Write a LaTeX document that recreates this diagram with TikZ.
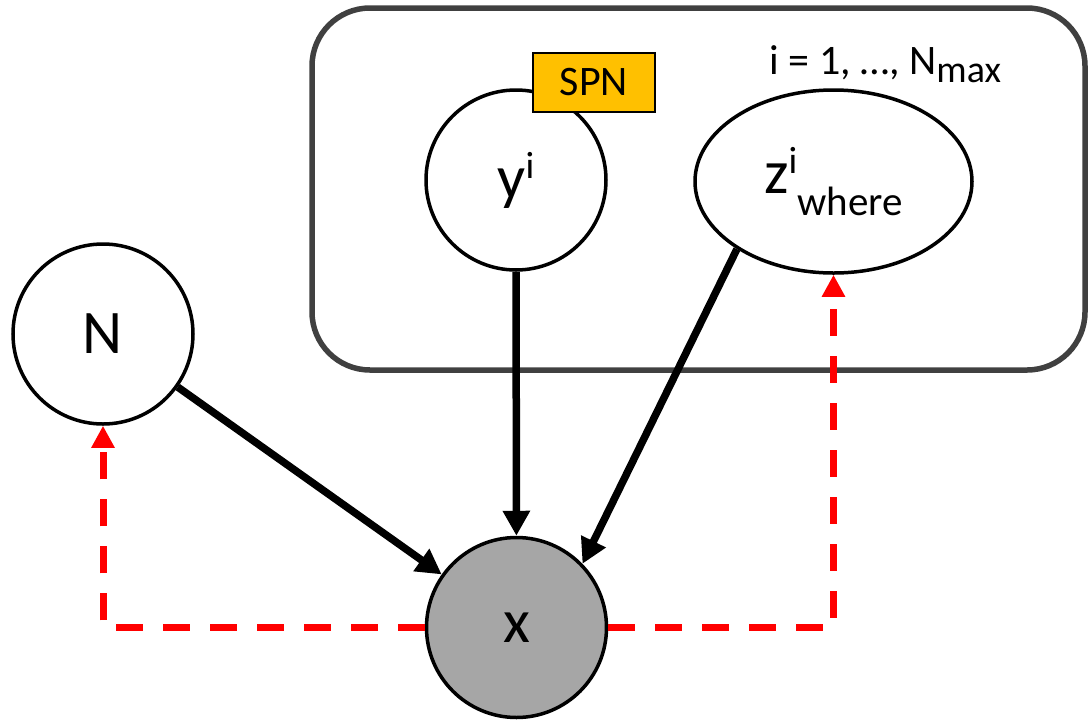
\documentclass[tikz,border=0pt]{standalone}
\usepackage{fontspec}
\setmainfont{Carlito}
\usetikzlibrary{arrows.meta,shapes.geometric}
\definecolor{plategray}{HTML}{404040}
\definecolor{spngold}{HTML}{FFC000}
\definecolor{obsgray}{HTML}{A6A6A6}
\newcommand{\fsz}[1]{\fontsize{#1pt}{#1pt}\selectfont}

\begin{document}
\begin{tikzpicture}[x=1pt,y=-1pt,
  var/.style={circle,draw=black,line width=3.5pt,minimum size=180pt,inner sep=0pt,font=\fsz{62}},
  evar/.style={ellipse,draw=black,line width=3.5pt,minimum width=277pt,minimum height=183pt,inner sep=0pt,font=\fsz{62}},
  obs/.style={var,fill=obsgray},
  tag/.style={draw=black,line width=2.5pt,fill=spngold,minimum width=122pt,minimum height=59pt,inner sep=0pt,font=\fsz{42}},
  gen/.style={line width=7.5pt,-{Triangle[length=25pt,width=26pt]}},
  infer/.style={red,line width=7pt,dash pattern=on 27pt off 20pt,-{Triangle[length=22pt,width=22pt]}},
  plate/.style={draw=plategray,line width=5.5pt,rounded corners=58pt}]
\useasboundingbox (0,0) rectangle (1088,721);

% plate over the per-object variables
\draw[plate] (312,8) rectangle (1085,370);
\node[anchor=base west,font=\fsz{42}] (range) at (766,74)
  {i = 1, \dots, N\raisebox{-8pt}{\fsz{38}max}};

% variables
\node[var] (N) at (103,334) {N};
\node[var] (y) at (516,180) {y\raisebox{20pt}{\fsz{38}i}};
\node[evar] (z) at (833.5,181.5) {z\raisebox{20pt}{\fsz{38}i}\raisebox{-22pt}{\fsz{41}where}};
\node[obs] (x) at (516.5,627.5) {x};
\node[tag] (spn) at (594,82.5) {SPN};

% generative model
\draw[gen] (N) -- (x);
\draw[gen] (y) -- (x);
\draw[gen] (z.215) -- (x.44);

% inference network
\draw[infer] (x.west) -| (N.south);
\draw[infer] (x.east) -| (z.south);
\end{tikzpicture}
\end{document}
